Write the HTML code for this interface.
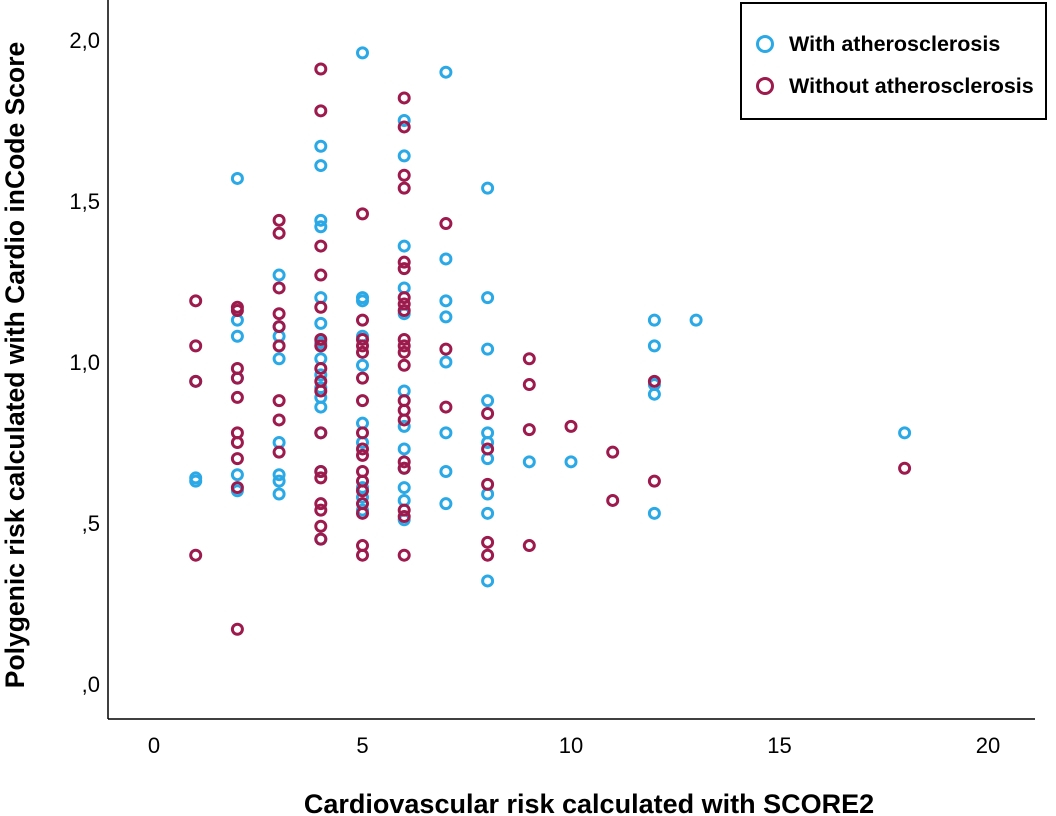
<!DOCTYPE html>
<html><head><meta charset="utf-8"><style>
body{margin:0;background:#fff;}
svg{display:block;font-family:"Liberation Sans",Arial,sans-serif;}
</style></head><body>
<svg id="chart" width="1056" height="816">
<g id="axes"></g><g id="marks"></g>
<g>
<rect x="741" y="3" width="305" height="116" fill="#fff" stroke="#000" stroke-width="2"/>
<circle cx="765" cy="44" r="7.5" fill="none" stroke="#2aa9e6" stroke-width="3"/>
<text x="789" y="51" font-size="21.5" font-weight="bold">With atherosclerosis</text>
<circle cx="765" cy="86" r="7.5" fill="none" stroke="#9c1a4c" stroke-width="3"/>
<text x="789" y="93" font-size="21.5" font-weight="bold">Without atherosclerosis</text>
</g>
<text x="589" y="813" font-size="27" font-weight="bold" text-anchor="middle">Cardiovascular risk calculated with SCORE2</text>
<text transform="translate(24,365) rotate(-90)" font-size="26.5" font-weight="bold" text-anchor="middle">Polygenic risk calculated with Cardio inCode Score</text>
</svg>
<script>
const xTicks=[0,5,10,15,20];
const yTicks=[0,0.5,1.0,1.5,2.0];
const yTickLabels=[",0",",5","1,0","1,5","2,0"];
const withX=[1,1,1,2,2,2,2,2,2,3,3,3,3,3,3,3,3,4,4,4,4,4,4,4,4,4,4,4,4,4,4,4,5,5,5,5,5,5,5,5,5,5,6,6,6,6,6,6,6,6,6,6,6,6,7,7,7,7,7,7,7,7,8,8,8,8,8,8,8,8,8,8,9,10,12,12,12,12,12,13,18];
const withY=[0.94,0.64,0.63,1.57,1.13,1.08,0.95,0.65,0.60,1.27,1.11,1.08,1.01,0.75,0.65,0.63,0.59,1.67,1.61,1.44,1.42,1.20,1.12,1.06,1.01,0.96,0.92,0.89,0.86,0.78,0.66,0.45,1.96,1.20,1.19,1.08,0.99,0.81,0.75,0.61,0.58,0.54,1.75,1.64,1.36,1.23,1.15,0.91,0.80,0.73,0.67,0.61,0.57,0.51,1.90,1.32,1.19,1.14,1.00,0.78,0.66,0.56,1.54,1.20,1.04,0.88,0.78,0.75,0.70,0.59,0.53,0.32,0.69,0.69,1.13,1.05,0.93,0.90,0.53,1.13,0.78];
const withoutX=[1,1,1,1,2,2,2,2,2,2,2,2,2,2,3,3,3,3,3,3,3,3,3,4,4,4,4,4,4,4,4,4,4,4,4,4,4,4,4,4,5,5,5,5,5,5,5,5,5,5,5,5,5,5,5,5,5,6,6,6,6,6,6,6,6,6,6,6,6,6,6,6,6,6,6,6,6,6,7,7,7,8,8,8,8,8,9,9,9,9,10,11,11,12,12,18];
const withoutY=[1.19,1.05,0.94,0.40,1.17,1.16,0.98,0.95,0.89,0.78,0.75,0.70,0.61,0.17,1.44,1.40,1.23,1.15,1.11,1.05,0.88,0.82,0.72,1.91,1.78,1.36,1.27,1.17,1.07,1.05,0.98,0.94,0.91,0.78,0.66,0.64,0.56,0.54,0.49,0.45,1.46,1.13,1.07,1.05,1.03,0.95,0.88,0.78,0.73,0.71,0.66,0.63,0.60,0.56,0.53,0.43,0.40,1.82,1.73,1.58,1.54,1.31,1.29,1.20,1.18,1.16,1.07,1.05,1.03,0.99,0.88,0.85,0.82,0.69,0.67,0.54,0.52,0.40,1.43,1.04,0.86,0.84,0.73,0.62,0.44,0.40,1.01,0.93,0.79,0.43,0.80,0.72,0.57,0.94,0.63,0.67];
const NS="http://www.w3.org/2000/svg";
function xS(v){return 154+v*41.7;}
function yS(v){return 684-v*322;}
const axes=document.getElementById('axes'), marks=document.getElementById('marks');
function mk(tag,attrs,parent){const e=document.createElementNS(NS,tag);for(const k in attrs)e.setAttribute(k,attrs[k]);parent.appendChild(e);return e;}
const yl=mk('line',{x1:108,y1:0,x2:108,y2:719,stroke:'#000','stroke-width':1.5},axes);


const xl=mk('line',{x1:108,y1:719,x2:1035,y2:719,stroke:'#000','stroke-width':1.5},axes);


xTicks.forEach(t=>{const e=mk('text',{x:xS(t),y:753,'font-size':22,'text-anchor':'middle'},axes);e.textContent=t;

});
yTicks.forEach((t,i)=>{const e=mk('text',{x:100,y:yS(t)+8,'font-size':22,'text-anchor':'end'},axes);e.textContent=yTickLabels[i];

});
function draw(xs,ys,color,name){xs.forEach((x,i)=>{const c=mk('circle',{cx:xS(x),cy:yS(ys[i]),r:5,fill:'none',stroke:color,'stroke-width':3},marks);

});}
draw(withX,withY,'#2aa9e6','point-with-atherosclerosis');
draw(withoutX,withoutY,'#9c1a4c','point-without-atherosclerosis');
</script>
</body></html>
